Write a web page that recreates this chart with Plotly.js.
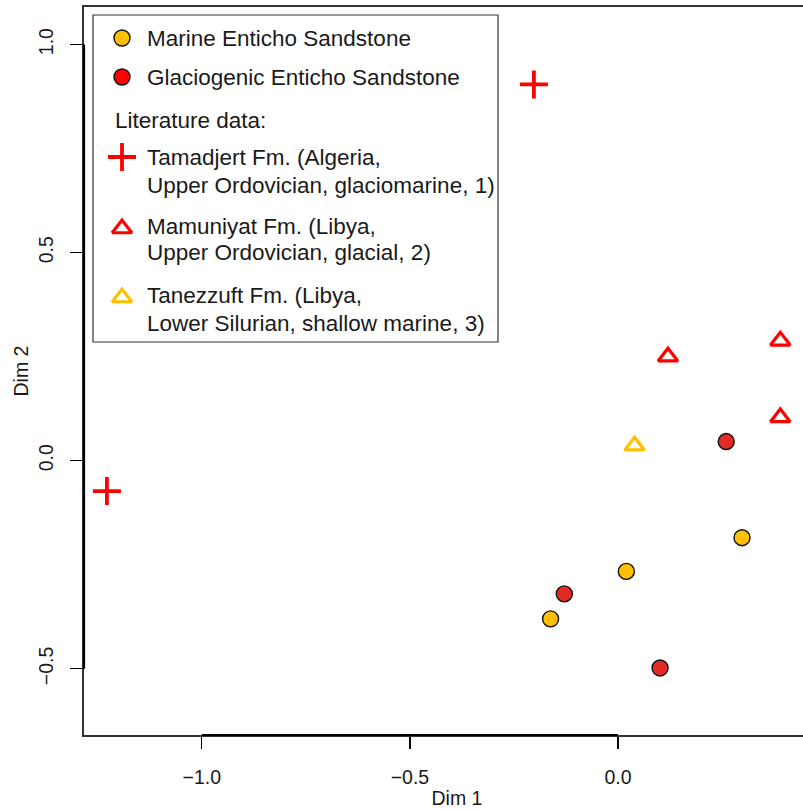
<!DOCTYPE html>
<html>
<head>
<meta charset="utf-8">
<script src="https://cdn.plot.ly/plotly-3.0.1.min.js"></script>
<style>
html,body{margin:0;padding:0;overflow:hidden;background:#fff;}
#chart{width:860px;height:809px;}
</style>
</head>
<body>
<div id="chart"></div>
<script>
// ---- data ----
const marineX = [0.298, 0.020, -0.162];
const marineY = [-0.185, -0.266, -0.380];
const glacX = [0.260, -0.129, 0.101];
const glacY = [0.046, -0.320, -0.498];
const tamadjertX = [-0.202, -1.228];
const tamadjertY = [0.904, -0.073];
const mamuniyatX = [0.120, 0.390, 0.390];
const mamuniyatY = [0.250, 0.288, 0.104];
const tanezzuftX = [0.040];
const tanezzuftY = [0.036];

const xTicks = [-1.0, -0.5, 0.0];
const yTicks = [-0.5, 0.0, 0.5, 1.0];
const xTitle = "Dim 1";
const yTitle = "Dim 2";

const legendNames = [
  ["Marine Enticho Sandstone"],
  ["Glaciogenic Enticho Sandstone"],
  ["Tamadjert Fm. (Algeria,", "Upper Ordovician, glaciomarine, 1)"],
  ["Mamuniyat Fm. (Libya,", "Upper Ordovician, glacial, 2)"],
  ["Tanezzuft Fm. (Libya,", "Lower Silurian, shallow marine, 3)"]
];
const legendHeading = "Literature data:";

// ---- styles ----
const YEL = "#FFC000", RED_DATA = "#E32B26", RED = "#FF0000";
const FONT = "Liberation Sans, Arial, sans-serif";
const TXT = "#1a1a1a";

// plot area geometry (pixels)
const W = 860, H = 809;
const L = 84, T = 7, R = 830, B = 735;
const pxPerUnit = 416.2;
const x0px = 618, y0px = 460.7;
const xRange = [(L - x0px) / pxPerUnit, (R - x0px) / pxPerUnit];
const yRange = [(y0px - B) / pxPerUnit, (y0px - T) / pxPerUnit];

const crossMarker = {symbol: "cross-thin-open", size: 20, color: RED, line: {color: RED, width: 3.8}};
const triMarker = c => ({symbol: "triangle-up-open", size: 17, color: c, line: {color: c, width: 3.2}});
const dotMarker = c => ({symbol: "circle", size: 16, color: c, line: {color: "#111", width: 1.4}});

const traces = [
  {x: tamadjertX, y: tamadjertY, mode: "markers", type: "scatter", marker: crossMarker},
  {x: mamuniyatX, y: mamuniyatY, mode: "markers", type: "scatter", marker: triMarker(RED)},
  {x: tanezzuftX, y: tanezzuftY, mode: "markers", type: "scatter", marker: triMarker(YEL)},
  {x: glacX, y: glacY, mode: "markers", type: "scatter", marker: dotMarker(RED_DATA)},
  {x: marineX, y: marineY, mode: "markers", type: "scatter", marker: dotMarker(YEL)}
];

// ---- manual legend on a pixel overlay axis ----
const legX = 122, legTextX = 145;
const legSymY = [38, 77, 157, 228.5, 297.5];
const legLineY = [[38], [77], [157, 185], [226, 252], [295, 323]];
const legMarkers = [dotMarker(YEL), dotMarker(RED), crossMarker, triMarker(RED), triMarker(YEL)];
legMarkers.forEach((m, i) => {
  traces.push({x: [legX], y: [legSymY[i]], xaxis: "x2", yaxis: "y2",
    mode: "markers", type: "scatter", marker: m, hoverinfo: "skip"});
});

const annotations = [];
legendNames.forEach((lines, i) => {
  lines.forEach((s, j) => {
    annotations.push({xref: "x2", yref: "y2", x: legTextX, y: legLineY[i][j],
      text: s, showarrow: false, xanchor: "left", yanchor: "middle",
      font: {family: FONT, size: 22.5, color: TXT}});
  });
});
annotations.push({xref: "x2", yref: "y2", x: 113, y: 120, text: legendHeading,
  showarrow: false, xanchor: "left", yanchor: "middle",
  font: {family: FONT, size: 22.5, color: TXT}});

const shapes = [
  {type: "rect", xref: "x2", yref: "y2", x0: 93, x1: 498, y0: 15, y1: 342,
   line: {color: "#333", width: 1.2}, fillcolor: "rgba(255,255,255,0)"},
  // R axis segments spanning the ticks
  {type: "line", xref: "x", yref: "paper", x0: -1.0, x1: 0.0, y0: 0, y1: 0,
   line: {color: "#000", width: 2.2}},
  {type: "line", xref: "paper", yref: "y", x0: 0, x1: 0, y0: -0.5, y1: 1.0,
   line: {color: "#000", width: 2.2}}
];

const layout = {
  width: W, height: H,
  margin: {l: L, r: W - R, t: T, b: H - B, pad: 0},
  paper_bgcolor: "#fff", plot_bgcolor: "#fff",
  showlegend: false,
  font: {family: FONT, color: TXT},
  xaxis: {range: xRange, tickvals: xTicks, tickformat: ".1f", ticks: "outside",
    ticklen: 12, tickwidth: 1.3, tickcolor: "#000",
    showline: true, mirror: true, linecolor: "#333", linewidth: 1.6,
    showgrid: false, zeroline: false, automargin: false,
    tickfont: {family: FONT, size: 19.5, color: TXT}, ticklabelstandoff: 12,
    title: {text: xTitle, font: {family: FONT, size: 19.5, color: TXT}, standoff: 11}},
  yaxis: {range: yRange, tickvals: yTicks, tickformat: ".1f", ticks: "outside",
    ticklen: 12, tickwidth: 1.3, tickcolor: "#000", tickangle: -90,
    showline: true, mirror: true, linecolor: "#333", linewidth: 1.6,
    showgrid: false, zeroline: false, automargin: false,
    tickfont: {family: FONT, size: 19.5, color: TXT}, ticklabelstandoff: 10,
    title: {text: yTitle, font: {family: FONT, size: 19.5, color: TXT}, standoff: 1}},
  xaxis2: {overlaying: "x", range: [L, R], visible: false, fixedrange: true},
  yaxis2: {overlaying: "y", range: [B, T], visible: false, fixedrange: true},
  annotations: annotations,
  shapes: shapes
};

Plotly.newPlot("chart", traces, layout, {displayModeBar: false, staticPlot: true});
</script>
</body>
</html>
